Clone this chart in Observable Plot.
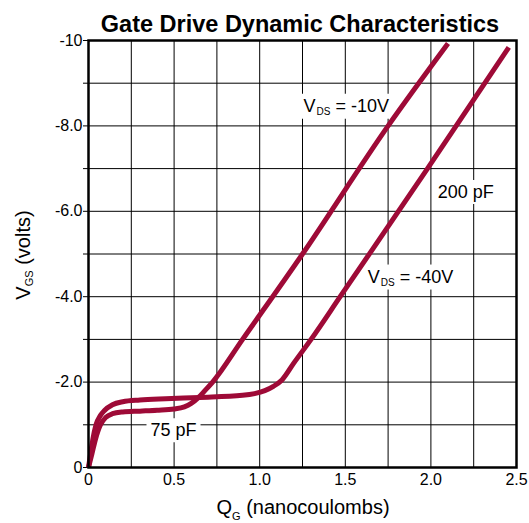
<!DOCTYPE html>
<html><head><meta charset="utf-8">
<script src="https://cdn.jsdelivr.net/npm/d3@7"></script>
<script src="https://cdn.jsdelivr.net/npm/@observablehq/plot@0.6"></script>
<style>body{margin:0;background:white}</style>
</head><body><div id="chart"></div>
<script>
// ---- data ----
const qTicks = [0, 0.5, 1.0, 1.5, 2.0, 2.5];
const qGrid = [0, 0.25, 0.5, 0.75, 1.0, 1.25, 1.5, 1.75, 2.0, 2.25, 2.5];
const vTicks = [0, -2, -4, -6, -8, -10];
const vGrid = [0, -1, -2, -3, -4, -5, -6, -7, -8, -9, -10];

// V_DS = -10V curve
const q10 = [0, 0.02, 0.04, 0.07, 0.1, 0.14, 0.2, 0.3, 0.4, 0.5, 0.56, 0.6, 0.64, 0.68, 0.725, 0.9, 1.25, 1.75, 2.1];
const v10 = [0, -0.32, -0.65, -1.0, -1.17, -1.26, -1.3, -1.32, -1.34, -1.37, -1.42, -1.5, -1.63, -1.8, -2.0, -3.0, -5.0, -8.0, -9.93];
// V_DS = -40V curve
const q40 = [0, 0.012, 0.025, 0.044, 0.07, 0.092, 0.14, 0.2, 0.3, 0.45, 0.65, 0.9, 0.97, 1.03, 1.08, 1.13, 1.2, 1.3, 1.47, 1.98, 2.455];
const v40 = [0, -0.32, -0.65, -1.0, -1.22, -1.33, -1.47, -1.54, -1.58, -1.61, -1.64, -1.69, -1.73, -1.8, -1.9, -2.05, -2.45, -3.0, -4.0, -7.0, -9.84];

// annotations: [main, subscript, rest]
const annMain = ["V", "", "V", ""];
const annSub = ["DS", "", "DS", ""];
const annRest = [" = -10V", "200 pF", " = -40V", "75 pF"];
const annQ = [1.259, 2.043, 1.634, 0.365];
const annV = [-8.32, -6.30, -4.32, -0.72];

const titleText = "Gate Drive Dynamic Characteristics";
const xLabel = ["Q", "G", " (nanocoulombs)"];
const yLabel = ["V", "GS", " (volts)"];

const lineColor = "#9e0a37";
const font = "'Liberation Sans', Arial, sans-serif";

const d10 = q10.map((q, i) => ({q, v: v10[i]}));
const d40 = q40.map((q, i) => ({q, v: v40[i]}));

const fmtV = v => v === 0 ? "0" : v === -10 ? "-10" : v.toFixed(1);
const fmtQ = q => q === 0 ? "0" : q.toFixed(1);

const W = 529, H = 523;
const chart = Plot.plot({
  width: W, height: H,
  marginLeft: 88, marginRight: 13, marginTop: 40, marginBottom: 56,
  style: {fontFamily: font, fontSize: "16px", background: "white", color: "black"},
  x: {domain: [0, 2.5], label: null},
  y: {domain: [0, -10], label: null},
  marks: [
    Plot.gridX(qGrid, {stroke: "black", strokeOpacity: 1, strokeWidth: 1}),
    Plot.gridY(vGrid, {stroke: "black", strokeOpacity: 1, strokeWidth: 1}),
    Plot.axisY(vGrid, {tickSize: 5, tickFormat: () => "", label: null}),
    Plot.axisY(vTicks, {tickSize: 0, tickPadding: 6, tickFormat: fmtV, label: null, fontSize: 16}),
    Plot.axisX(qTicks, {tickSize: 0, tickPadding: 6, tickFormat: fmtQ, label: null, fontSize: 16}),
    Plot.line(d10, {x: "q", y: "v", stroke: lineColor, strokeWidth: 5, curve: "monotone-x", strokeLinecap: "butt"}),
    Plot.line(d40, {x: "q", y: "v", stroke: lineColor, strokeWidth: 5, curve: "monotone-x", strokeLinecap: "butt"}),
    Plot.frame({stroke: "black", strokeWidth: 2.5})
  ]
});
document.getElementById("chart").appendChild(chart);

const svg = d3.select(chart);
const xs = chart.scale("x"), ys = chart.scale("y");

// annotations with white boxes
const firstLine = chart.querySelector('g[aria-label="line"]');
const boxLayer = d3.select(chart.insertBefore(document.createElementNS("http://www.w3.org/2000/svg", "g"), firstLine));
const textLayer = svg.append("g").attr("font-family", font).attr("font-size", 18)
  .attr("fill", "black").attr("text-anchor", "start");
annRest.forEach((rest, i) => {
  const t = textLayer.append("text")
    .attr("text-anchor", "start")
    .attr("x", xs.apply(annQ[i]))
    .attr("y", ys.apply(annV[i]));
  if (annMain[i]) {
    t.append("tspan").text(annMain[i]);
    t.append("tspan").attr("font-size", 10).attr("dy", 3).attr("dx", 1).text(annSub[i]);
    t.append("tspan").attr("dy", -3).text(rest);
  } else {
    t.append("tspan").text(rest);
  }
  const b = t.node().getBBox();
  boxLayer.append("rect")
    .attr("x", b.x - 4).attr("y", b.y - 2)
    .attr("width", b.width + 8).attr("height", b.height + 4)
    .attr("fill", "white");
});

// title
svg.append("text")
  .attr("x", 300).attr("y", 31.5)
  .attr("text-anchor", "middle")
  .attr("font-family", font).attr("font-size", 23.5).attr("font-weight", "bold")
  .attr("fill", "black")
  .text(titleText);

// x label
const xl = svg.append("text")
  .attr("x", 303).attr("y", 514)
  .attr("text-anchor", "middle")
  .attr("font-family", font).attr("font-size", 20).attr("fill", "black");
xl.append("tspan").text(xLabel[0]);
xl.append("tspan").attr("font-size", 11).attr("dy", 6).text(xLabel[1]);
xl.append("tspan").attr("dy", -6).text(xLabel[2]);

// y label
const yl = svg.append("text")
  .attr("transform", "translate(30,255) rotate(-90)")
  .attr("text-anchor", "middle")
  .attr("font-family", font).attr("font-size", 20).attr("fill", "black");
yl.append("tspan").text(yLabel[0]);
yl.append("tspan").attr("font-size", 11).attr("dy", 3).text(yLabel[1]);
yl.append("tspan").attr("dy", -3).text(yLabel[2]);
</script>
</body></html>
